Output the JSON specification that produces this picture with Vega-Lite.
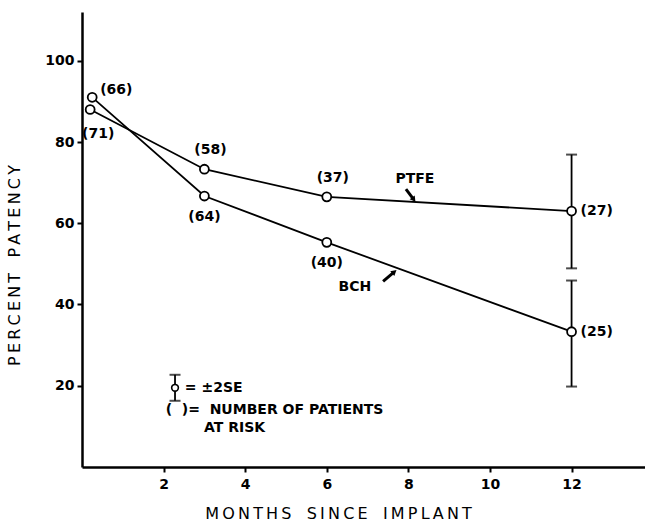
{
  "$schema": "https://vega.github.io/schema/vega-lite/v6.json",
  "width": 563,
  "height": 455,
  "autosize": {"type": "none"},
  "padding": {"left": 82, "top": 12, "right": 0, "bottom": 57},
  "background": "white",
  "config": {"view": {"stroke": null}, "font": "DejaVu Sans"},
  "datasets": {
    "pts": [
      {"series": "PTFE", "month": 0.2, "pct": 88, "n": "(71)"},
      {"series": "PTFE", "month": 3, "pct": 73.3, "n": "(58)"},
      {"series": "PTFE", "month": 6, "pct": 66.5, "n": "(37)"},
      {"series": "PTFE", "month": 12, "pct": 63, "n": "(27)"},
      {"series": "BCH", "month": 0.25, "pct": 91, "n": "(66)"},
      {"series": "BCH", "month": 3, "pct": 66.7, "n": "(64)"},
      {"series": "BCH", "month": 6, "pct": 55.3, "n": "(40)"},
      {"series": "BCH", "month": 12, "pct": 33.3, "n": "(25)"}
    ],
    "err": [
      {"series": "PTFE", "month": 12, "lo": 48.9, "hi": 76.9},
      {"series": "BCH", "month": 12, "lo": 19.8, "hi": 45.9},
      {"series": "legend", "month": 2.28, "lo": 16.3, "hi": 22.7}
    ],
    "notes": [
      {"text": "PTFE", "month": 8.16, "pct": 70.9},
      {"text": "BCH", "month": 6.69, "pct": 44.4}
    ],
    "legendtext": [
      {"text": "= ±2SE", "month": 2.52, "pct": 19.5},
      {"text": "(\u00a0\u00a0)=\u00a0\u00a0NUMBER OF PATIENTS", "month": 2.05, "pct": 14.0},
      {"text": "AT RISK", "month": 2.99, "pct": 9.5}
    ],
    "arrows": [
      {"name": "PTFE", "month": 7.94, "pct": 68.4, "month2": 8.12, "pct2": 66.0, "ang": 143},
      {"name": "BCH", "month": 7.38, "pct": 45.7, "month2": 7.64, "pct2": 47.9, "ang": 50}
    ]
  },
  "layer": [
    {
      "data": {"name": "pts"},
      "mark": {"type": "line", "color": "black", "strokeWidth": 1.8},
      "encoding": {
        "x": {
          "field": "month", "type": "quantitative",
          "scale": {"domain": [0, 13.8], "nice": false, "zero": false},
          "axis": {
            "values": [2, 4, 6, 8, 10, 12], "grid": false,
            "title": "M\u2009O\u2009N\u2009T\u2009H\u2009S\u00a0\u00a0\u00a0S\u2009I\u2009N\u2009C\u2009E\u00a0\u00a0\u00a0I\u2009M\u2009P\u2009L\u2009A\u2009N\u2009T",
            "titleFontSize": 16, "titleFontWeight": "normal", "titleColor": "black",
            "titlePadding": 14, "titleX": 256,
            "labelFontSize": 14, "labelFontWeight": "bold", "labelColor": "black",
            "labelPadding": 5,
            "domainColor": "black", "domainWidth": 2.5,
            "tickColor": "black", "tickSize": 5, "tickWidth": 2
          }
        },
        "y": {
          "field": "pct", "type": "quantitative",
          "scale": {"domain": [0, 112], "nice": false},
          "axis": {
            "values": [20, 40, 60, 80, 100], "grid": false,
            "title": "P\u2009E\u2009R\u2009C\u2009E\u2009N\u2009T\u00a0\u00a0\u00a0P\u2009A\u2009T\u2009E\u2009N\u2009C\u2009Y",
            "titleFontSize": 16, "titleFontWeight": "normal", "titleColor": "black",
            "titlePadding": 22, "titleY": 253,
            "labelFontSize": 14, "labelFontWeight": "bold", "labelColor": "black",
            "labelPadding": 3,
            "domainColor": "black", "domainWidth": 2.5,
            "tickColor": "black", "tickSize": 5, "tickWidth": 2
          }
        },
        "detail": {"field": "series"}
      }
    },
    {
      "data": {"name": "err"},
      "mark": {"type": "rule", "color": "black", "strokeWidth": 1.8},
      "encoding": {
        "x": {"field": "month", "type": "quantitative"},
        "y": {"field": "lo", "type": "quantitative"},
        "y2": {"field": "hi"}
      }
    },
    {
      "data": {"name": "err"},
      "mark": {"type": "tick", "orient": "horizontal", "color": "black", "thickness": 2, "size": 11},
      "encoding": {
        "x": {"field": "month", "type": "quantitative"},
        "y": {"field": "lo", "type": "quantitative"}
      }
    },
    {
      "data": {"name": "err"},
      "mark": {"type": "tick", "orient": "horizontal", "color": "black", "thickness": 2, "size": 11},
      "encoding": {
        "x": {"field": "month", "type": "quantitative"},
        "y": {"field": "hi", "type": "quantitative"}
      }
    },
    {
      "data": {"name": "pts"},
      "mark": {"type": "point", "shape": "circle", "filled": true, "fill": "white", "stroke": "black", "strokeWidth": 1.8, "size": 80, "opacity": 1},
      "encoding": {
        "x": {"field": "month", "type": "quantitative"},
        "y": {"field": "pct", "type": "quantitative"}
      }
    },
    {
      "data": {"values": [{"month": 2.28, "pct": 19.5}]},
      "mark": {"type": "point", "shape": "circle", "filled": true, "fill": "white", "stroke": "black", "strokeWidth": 1.6, "size": 45, "opacity": 1},
      "encoding": {
        "x": {"field": "month", "type": "quantitative"},
        "y": {"field": "pct", "type": "quantitative"}
      }
    },
    {
      "data": {"name": "pts"},
      "transform": [{"filter": "indexof(['(58)','(37)'], datum.n) >= 0"}],
      "mark": {"type": "text", "fontSize": 14, "fontWeight": "bold", "dx": 6, "dy": -19},
      "encoding": {
        "x": {"field": "month", "type": "quantitative"},
        "y": {"field": "pct", "type": "quantitative"},
        "text": {"field": "n"}
      }
    },
    {
      "data": {"name": "pts"},
      "transform": [{"filter": "indexof(['(64)','(40)'], datum.n) >= 0"}],
      "mark": {"type": "text", "fontSize": 14, "fontWeight": "bold", "dx": 0, "dy": 21},
      "encoding": {
        "x": {"field": "month", "type": "quantitative"},
        "y": {"field": "pct", "type": "quantitative"},
        "text": {"field": "n"}
      }
    },
    {
      "data": {"name": "pts"},
      "transform": [{"filter": "indexof(['(27)','(25)'], datum.n) >= 0"}],
      "mark": {"type": "text", "fontSize": 14, "fontWeight": "bold", "align": "left", "dx": 9, "dy": 0},
      "encoding": {
        "x": {"field": "month", "type": "quantitative"},
        "y": {"field": "pct", "type": "quantitative"},
        "text": {"field": "n"}
      }
    },
    {
      "data": {"name": "pts"},
      "transform": [{"filter": "datum.n == '(66)'"}],
      "mark": {"type": "text", "fontSize": 14, "fontWeight": "bold", "align": "left", "dx": 8, "dy": -7},
      "encoding": {
        "x": {"field": "month", "type": "quantitative"},
        "y": {"field": "pct", "type": "quantitative"},
        "text": {"field": "n"}
      }
    },
    {
      "data": {"name": "pts"},
      "transform": [{"filter": "datum.n == '(71)'"}],
      "mark": {"type": "text", "fontSize": 14, "fontWeight": "bold", "dx": 8, "dy": 24},
      "encoding": {
        "x": {"field": "month", "type": "quantitative"},
        "y": {"field": "pct", "type": "quantitative"},
        "text": {"field": "n"}
      }
    },
    {
      "data": {"name": "notes"},
      "mark": {"type": "text", "fontSize": 14, "fontWeight": "bold"},
      "encoding": {
        "x": {"field": "month", "type": "quantitative"},
        "y": {"field": "pct", "type": "quantitative"},
        "text": {"field": "text"}
      }
    },
    {
      "data": {"name": "legendtext"},
      "mark": {"type": "text", "fontSize": 14, "fontWeight": "bold", "align": "left"},
      "encoding": {
        "x": {"field": "month", "type": "quantitative"},
        "y": {"field": "pct", "type": "quantitative"},
        "text": {"field": "text"}
      }
    },
    {
      "data": {"name": "arrows"},
      "mark": {"type": "rule", "color": "black", "strokeWidth": 3},
      "encoding": {
        "x": {"field": "month", "type": "quantitative"},
        "y": {"field": "pct", "type": "quantitative"},
        "x2": {"field": "month2"},
        "y2": {"field": "pct2"}
      }
    },
    {
      "data": {"name": "arrows"},
      "mark": {"type": "point", "shape": "triangle", "filled": true, "color": "black", "size": 40, "opacity": 1},
      "encoding": {
        "x": {"field": "month2", "type": "quantitative"},
        "y": {"field": "pct2", "type": "quantitative"},
        "angle": {"field": "ang", "type": "quantitative", "scale": null}
      }
    }
  ]
}
